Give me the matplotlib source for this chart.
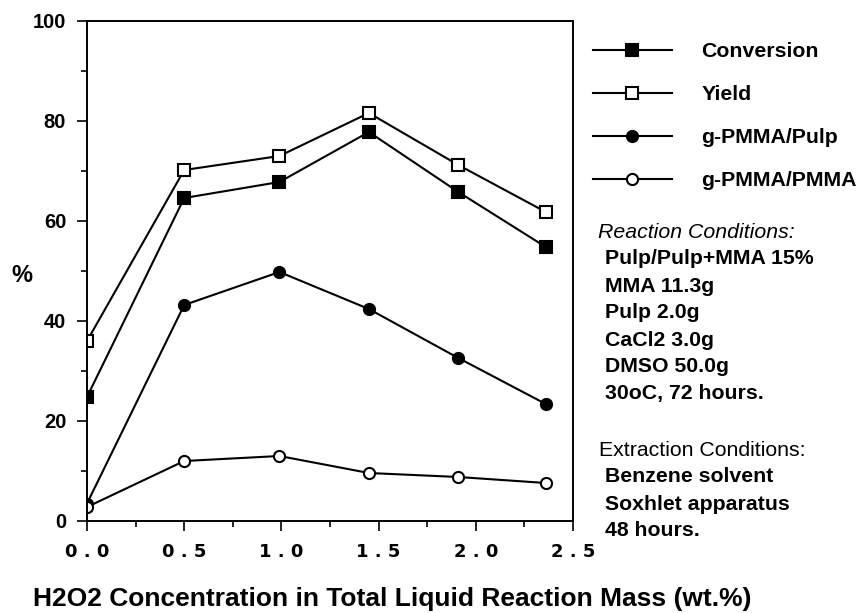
import matplotlib
matplotlib.use("Agg")
import matplotlib.pyplot as plt
from matplotlib.ticker import MultipleLocator


# values
h2o2Conc = [0.0, 0.5, 0.99, 1.45, 1.91, 2.36]
conversion = [24.8, 64.6, 67.8, 77.8, 65.8, 54.8]
yieldPct = [36.0, 70.2, 73.0, 81.6, 71.2, 61.8]
graftPulp = [3.5, 43.2, 49.8, 42.4, 32.6, 23.4]
graftPmma = [2.8, 12.0, 13.0, 9.6, 8.8, 7.6]

seriesNames = ["Conversion", "Yield", "g-PMMA/Pulp", "g-PMMA/PMMA"]

xTicks = [0.0, 0.5, 1.0, 1.5, 2.0, 2.5]
xTickLabels = ["0 . 0", "0 . 5", "1 . 0", "1 . 5", "2 . 0", "2 . 5"]
yTicks = [0, 20, 40, 60, 80, 100]

reactionHeader = "Reaction Conditions:"
reactionLines = ["Pulp/Pulp+MMA 15%", "MMA 11.3g", "Pulp 2.0g", "CaCl2 3.0g",
                 "DMSO 50.0g", "30oC, 72 hours."]
extractionHeader = "Extraction Conditions:"
extractionLines = ["Benzene solvent", "Soxhlet apparatus", "48 hours."]

xLabel = "H2O2 Concentration in Total Liquid Reaction Mass (wt.%)"
yLabel = "%"

plt.rcParams["font.family"] = ["Liberation Sans", "DejaVu Sans"]

W, H = 864, 613
fig = plt.figure(figsize = (W / 100, H / 100), dpi = 100, facecolor = "white")

# axes box in pixel terms of the reference
left, right, top, bottom = 87, 573, 21, 521
ax = fig.add_axes([left / W, 1 - bottom / H, (right - left) / W, (bottom - top) / H])

lineKw = dict(color = "black", linewidth = 1.5, markersize = 8, markeredgewidth = 1.5,
              markeredgecolor = "black")

ax.plot(h2o2Conc, conversion, marker = "s", markerfacecolor = "black", label = seriesNames[0], **lineKw)
ax.plot(h2o2Conc, yieldPct, marker = "s", markerfacecolor = "white", label = seriesNames[1], **lineKw)
ax.plot(h2o2Conc, graftPulp, marker = "o", markerfacecolor = "black", label = seriesNames[2], **lineKw)
ax.plot(h2o2Conc, graftPmma, marker = "o", markerfacecolor = "white", label = seriesNames[3], **lineKw)

ax.set_xlim(0, 2.5)
ax.set_ylim(0, 100)

ax.set_xticks(xTicks)
ax.set_xticklabels(xTickLabels, fontsize = 13, fontweight = "bold", family = "DejaVu Sans")
ax.set_yticks(yTicks)
ax.set_yticklabels([str(v) for v in yTicks], fontsize = 14.5, fontweight = "bold")
ax.xaxis.set_minor_locator(MultipleLocator(0.25))
ax.yaxis.set_minor_locator(MultipleLocator(10))

ax.tick_params(which = "major", direction = "out", length = 7, width = 1.2)
ax.tick_params(which = "minor", direction = "out", length = 4, width = 1.2)
ax.tick_params(axis = "x", which = "major", pad = 9)
ax.tick_params(axis = "y", which = "major", pad = 8)

for spine in ax.spines.values():
    spine.set_linewidth(1.4)

# axis titles
fig.text(392 / W, 1 - 599 / H, xLabel, ha = "center", va = "center", fontsize = 19, fontweight = "bold")
fig.text(22 / W, 1 - 275 / H, yLabel, ha = "center", va = "center", fontsize = 17, fontweight = "bold")

# legend sits to the right of the plot
fig.legend(loc = "upper left", bbox_to_anchor = (593 / W, 1 - 42 / H), frameon = False,
           prop = dict(weight = "bold", size = 15.3), handlelength = 3.7,
           handletextpad = 1.4, labelspacing = 1.13, borderpad = 0, borderaxespad = 0)

# condition notes
fig.text(598 / W, 1 - 232 / H, reactionHeader, ha = "left", va = "center", fontsize = 15.3, style = "italic")
for i, line in enumerate(reactionLines):
    fig.text(605 / W, 1 - (259 + i * 27) / H, line, ha = "left", va = "center", fontsize = 15.3, fontweight = "bold")

fig.text(599 / W, 1 - 450 / H, extractionHeader, ha = "left", va = "center", fontsize = 15.3)
for i, line in enumerate(extractionLines):
    fig.text(605 / W, 1 - (477 + i * 27) / H, line, ha = "left", va = "center", fontsize = 15.3, fontweight = "bold")

fig.savefig("out.png", dpi = 100, facecolor = fig.get_facecolor())
plt.close(fig)
